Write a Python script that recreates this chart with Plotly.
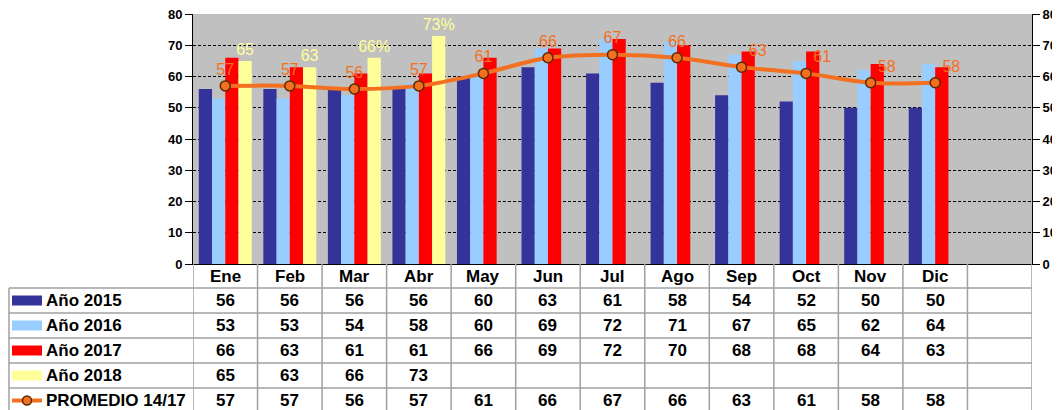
import plotly.graph_objects as go

months = ["Ene", "Feb", "Mar", "Abr", "May", "Jun", "Jul", "Ago", "Sep", "Oct", "Nov", "Dic"]
y2015 = [56, 56, 56, 56, 60, 63, 61, 58, 54, 52, 50, 50]
y2016 = [53, 53, 54, 58, 60, 69, 72, 71, 67, 65, 62, 64]
y2017 = [66, 63, 61, 61, 66, 69, 72, 70, 68, 68, 64, 63]
y2018 = [65, 63, 66, 73, None, None, None, None, None, None, None, None]
labels2018 = ["65", "63", "66%", "73%"]
promedio = [57, 57, 56, 57, 61, 66, 67, 66, 63, 61, 58, 58]
series_names = ["Año 2015", "Año 2016", "Año 2017", "Año 2018", "PROMEDIO 14/17"]
y_ticks = [0, 10, 20, 30, 40, 50, 60, 70, 80]

C15, C16, C17, C18 = "#333399", "#99CCFF", "#FF0000", "#FFFF99"
CLINE = "#F37021"
FONT = "Liberation Sans"

# the page body adds an 8px offset; plot area wanted at x 193..1032, y 14..264 on screen
OFF = 8
W, H = 1060, 410
PL, PR, PT, PB = 193, 1032, 14, 264
PW, PH = PR - PL, PB - PT
ML, MT = PL - OFF, PT - OFF
MR, MB = W - ML - PW, H - MT - PH


def py(p):
    return (PB - p) / PH


def px(p):
    return (p - PL) / PW


fig = go.Figure()
bar_series = [(series_names[0], y2015, C15), (series_names[1], y2016, C16),
              (series_names[2], y2017, C17), (series_names[3], y2018, C18)]
for name, vals, col in bar_series:
    kw = {}
    if vals is y2018:
        kw = dict(text=labels2018 + [""] * (len(months) - len(labels2018)),
                  textposition="outside", constraintext="none", cliponaxis=False,
                  textfont=dict(family=FONT, size=16, color="#FFFF99"))
    fig.add_trace(go.Bar(x=months, y=vals, name=name, marker=dict(color=col, line=dict(width=0)),
                         showlegend=False, **kw))

fig.add_trace(go.Scatter(
    x=months, y=promedio, yaxis="y2", mode="lines+markers+text",
    line=dict(color=CLINE, width=4, shape="spline", smoothing=1),
    marker=dict(size=10, color=CLINE, line=dict(color="#5A2A00", width=1.5)),
    text=[str(v) for v in promedio],
    textposition=["top center"] * 8 + ["top right"] * 4,
    textfont=dict(family=FONT, size=16, color=CLINE),
    cliponaxis=False, showlegend=False))

axis_common = dict(range=[0, 80], tickvals=y_ticks, ticks="outside", ticklen=7, tickcolor="#000000",
                   showline=True, linecolor="#000000", linewidth=1, zeroline=False, automargin=False,
                   ticklabeloverflow="allow",
                   tickfont=dict(family=FONT, size=13, color="#000000", weight="bold"))

fig.update_layout(
    width=W, height=H, autosize=False,
    margin=dict(l=ML, r=MR, t=MT, b=MB, pad=0, autoexpand=False),
    paper_bgcolor="white", plot_bgcolor="#C0C0C0",
    barmode="group", bargap=0.18, bargroupgap=0,
    xaxis=dict(type="category", categoryarray=months, range=[-0.5, 12.5], showticklabels=False,
               ticks="", showline=True, linecolor="#000000", linewidth=1, showgrid=False,
               automargin=False),
    yaxis=dict(**axis_common, showgrid=True, gridcolor="#000000", gridwidth=1, griddash="3px,2px"),
    yaxis2=dict(**axis_common, overlaying="y", side="right", showgrid=False),
)

# ---- data table below the chart ----
TL = "#A0A0A0"
row_lines = [288, 313, 338, 363, 388]
row_centers = [300.5, 325.5, 350.5, 375.5, 400.5]
header_center = 276
bottom = 420
left_edge = 9

shapes = []
for i in range(len(months) + 2):
    shapes.append(dict(type="line", xref="x", yref="paper", x0=i - 0.5, x1=i - 0.5,
                       y0=py(PB), y1=py(bottom), line=dict(color=TL, width=1.5)))
shapes.append(dict(type="line", xref="paper", yref="paper", x0=px(left_edge), x1=px(left_edge),
                   y0=py(row_lines[0]), y1=py(bottom), line=dict(color=TL, width=1.5)))
for r in row_lines:
    shapes.append(dict(type="line", xref="paper", yref="paper", x0=px(left_edge), x1=1,
                       y0=py(r), y1=py(r), line=dict(color=TL, width=1.5)))

# legend keys
for (name, vals, col), c in zip(bar_series, row_centers[:4]):
    shapes.append(dict(type="rect", xref="paper", yref="paper", x0=px(12), x1=px(42),
                       y0=py(c + 5), y1=py(c - 5), fillcolor=col, line=dict(width=0)))
c = row_centers[4]
shapes.append(dict(type="line", xref="paper", yref="paper", x0=px(12), x1=px(42),
                   y0=py(c), y1=py(c), line=dict(color=CLINE, width=4)))
shapes.append(dict(type="circle", xref="paper", yref="paper", x0=px(22.5), x1=px(31.5),
                   y0=py(c + 4.5), y1=py(c - 4.5), fillcolor=CLINE, line=dict(color="#5A2A00", width=1.5)))
fig.update_layout(shapes=shapes)

tfont = dict(family=FONT, size=17, color="#000000", weight="bold")
ann = []
for m in months:
    ann.append(dict(x=m, y=py(header_center), xref="x", yref="paper", text=m, showarrow=False,
                    font=tfont, xanchor="center", yanchor="middle"))
rows = [y2015, y2016, y2017, y2018, promedio]
for name, vals, c in zip(series_names, rows, row_centers):
    ann.append(dict(x=px(44), y=py(c), xref="paper", yref="paper", text=name, showarrow=False,
                    font=tfont, xanchor="left", yanchor="middle"))
    for m, v in zip(months, vals):
        if v is None:
            continue
        ann.append(dict(x=m, y=py(c), xref="x", yref="paper", text=str(v), showarrow=False,
                        font=tfont, xanchor="center", yanchor="middle"))
fig.update_layout(annotations=ann)

fig.write_html("out.html")
